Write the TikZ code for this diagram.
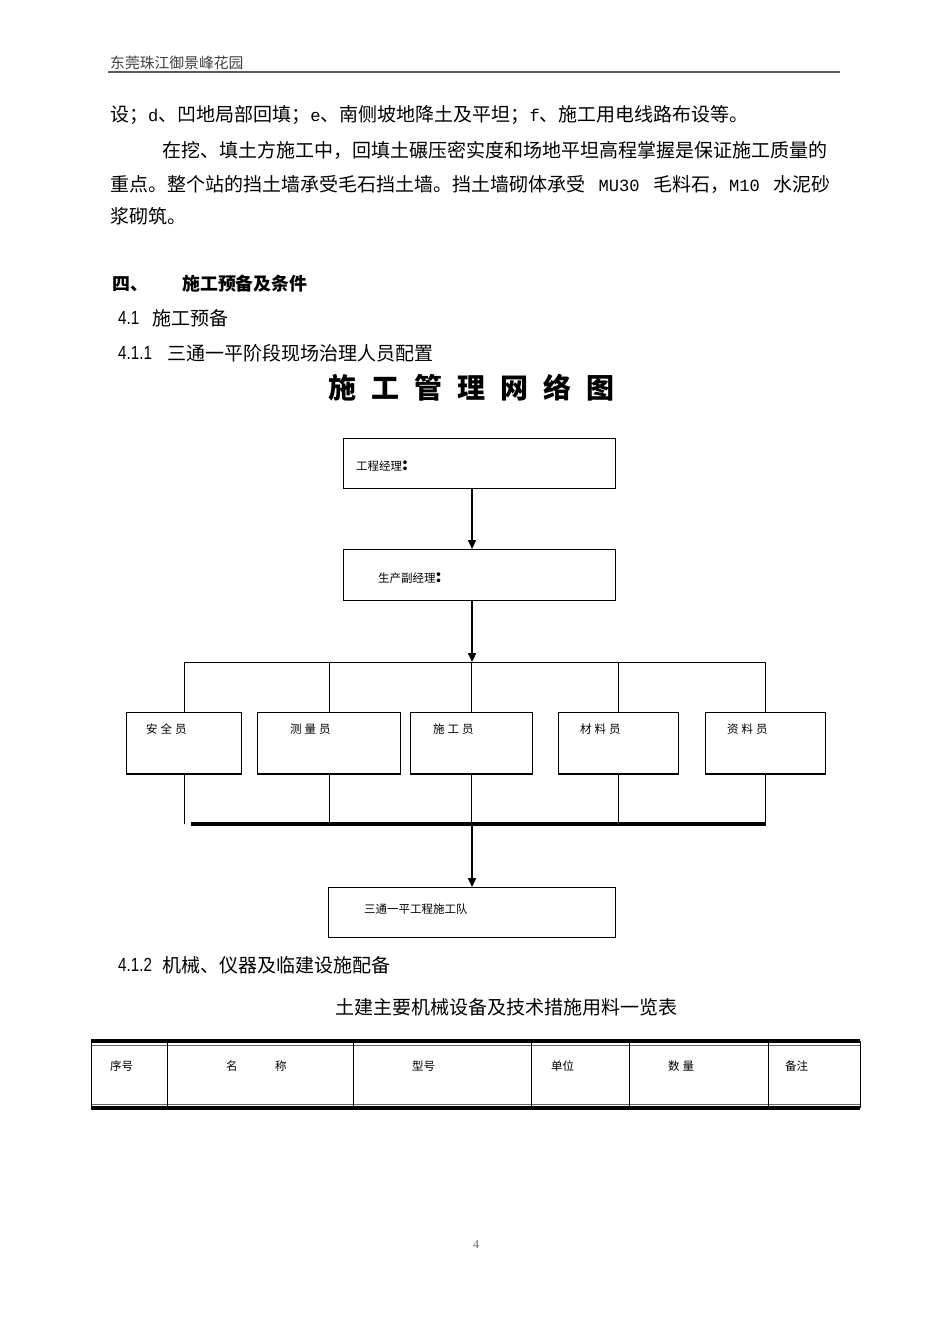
\documentclass[tikz,border=0pt]{standalone}
\usepackage{fontspec}
\setmainfont{Noto Sans CJK SC}
\newfontfamily\latmono[Scale=0.9]{Liberation Mono}
\newfontfamily\numfont[FakeStretch=0.8]{Liberation Sans}
\newfontfamily\pagefont{Liberation Serif}
\usetikzlibrary{arrows.meta}
\newcommand\stsp{\hspace{3pt}}
\newcommand\tisp{\hspace{15pt}}

\begin{document}
\begin{tikzpicture}[x=1pt,y=-1pt,
	every node/.style={inner sep=0pt},
	bodytext/.style={anchor=west,font=\fontsize{19}{22}\selectfont},
	numtext/.style={anchor=west,font=\numfont\fontsize{19}{22}\selectfont},
	mgrbox/.style={draw,line width=1.2pt,anchor=north west,minimum width=272pt,minimum height=50pt},
	staffbox/.style={draw,line width=1.2pt,anchor=north west,minimum height=61pt},
	boxlabel/.style={anchor=west,font=\fontsize{11.5}{13}\selectfont},
	mainarrow/.style={line width=2.2pt,-{Triangle[length=9pt,width=8pt]}},
	branch/.style={line width=1pt},
	heavybar/.style={line width=3.2pt}]
	\fill[white] (0,0) rectangle (950,1344);
	% header
	\node[anchor=west,font=\fontsize{14.8}{16}\selectfont,text=black!75] (header) at (110,63) {东莞珠江御景峰花园};
	\draw[line width=2pt,black!65] (108,72) -- (840,72);
	% body text
	\node[bodytext] (line1) at (110,115) {设；{\latmono d}、凹地局部回填；{\latmono e}、南侧坡地降土及平坦；{\latmono f}、施工用电线路布设等。};
	\node[bodytext] (line2) at (162,150) {在挖、填土方施工中，回填土碾压密实度和场地平坦高程掌握是保证施工质量的};
	\node[bodytext] (line3) at (110,184) {\makebox[720pt][s]{重点。整个站的挡土墙承受毛石挡土墙。挡土墙砌体承受 {\latmono MU30} 毛料石，{\latmono M10} 水泥砂}};
	\node[bodytext] (line4) at (110,216) {浆砌筑。};
	\node[bodytext,font=\fontsize{17.9}{20}\selectfont\bfseries] (sec4num) at (112,284) {四、};
	\node[bodytext,font=\fontsize{17.9}{20}\selectfont\bfseries] (sec4) at (182,284) {施工预备及条件};
	\node[numtext] (sec41num) at (118,318) {4.1};
	\node[bodytext] (sec41) at (152,318) {施工预备};
	\node[numtext] (sec411num) at (118,353) {4.1.1};
	\node[bodytext] (sec411) at (167,353) {三通一平阶段现场治理人员配置};
	\node[anchor=west,font=\fontsize{28}{30}\selectfont\bfseries] (title) at (328,388) {施\tisp 工\tisp 管\tisp 理\tisp 网\tisp 络\tisp 图};
	% chart
	\node[mgrbox] (pm) at (343,438) {};
	\node[mgrbox,minimum height=51pt] (dpm) at (343,549) {};
	\node[staffbox,minimum width=115pt] (anquan) at (126,712) {};
	\node[staffbox,minimum width=143pt] (celiang) at (257,712) {};
	\node[staffbox,minimum width=122pt] (shigong) at (410,712) {};
	\node[staffbox,minimum width=120pt] (cailiao) at (558,712) {};
	\node[staffbox,minimum width=120pt] (ziliao) at (705,712) {};
	\node[mgrbox,minimum width=287pt] (team) at (328,887) {};
	\node[boxlabel] (pmtext) at (356,466) {工程经理{\fontsize{17}{17}\selectfont\bfseries :}};
	\node[boxlabel] (dpmtext) at (378,578) {生产副经理{\fontsize{17}{17}\selectfont\bfseries :}};
	\node[boxlabel] (anquantext) at (146,729) {安\stsp 全\stsp 员};
	\node[boxlabel] (celiangtext) at (290,729) {测\stsp 量\stsp 员};
	\node[boxlabel] (shigongtext) at (433,729) {施\stsp 工\stsp 员};
	\node[boxlabel] (cailiaotext) at (580,729) {材\stsp 料\stsp 员};
	\node[boxlabel] (ziliaotext) at (727,729) {资\stsp 料\stsp 员};
	\node[boxlabel] (teamtext) at (364,909) {三通一平工程施工队};
	\foreach \s in {anquan,celiang,shigong,cailiao,ziliao}
		\draw[line width=2.4pt] (\s.south west) -- (\s.south east);
	\coordinate (spine) at (472,0);
	\coordinate (topbar) at (472,662);
	\coordinate (botbar) at (472,824);
	\draw[mainarrow] (pm.south -| spine) -- (dpm.north -| spine);
	\draw[mainarrow] (dpm.south -| spine) -- (topbar);
	\foreach \s in {anquan,celiang,shigong,cailiao,ziliao} {
		\draw[branch] (\s.north) -- (\s.north |- topbar);
		\draw[branch] (\s.south) -- (\s.south |- botbar);
	}
	\draw[branch] (anquan.north |- topbar) -- (ziliao.north |- topbar);
	\draw[heavybar] ([xshift=7pt]anquan.south |- botbar) -- (ziliao.south |- botbar);
	\draw[mainarrow] (botbar) -- (team.north -| spine);
	% table
	\node[numtext] (sec412num) at (118,965) {4.1.2};
	\node[bodytext] (sec412) at (162,965) {机械、仪器及临建设施配备};
	\node[bodytext] (caption) at (335,1007) {土建主要机械设备及技术措施用料一览表};
	\draw[line width=3.5pt] (91,1041) -- (860,1041);
	\draw[line width=1pt,black!60] (91,1045) -- (860,1045);
	\draw[line width=1pt,black!60] (91,1104) -- (860,1104);
	\draw[line width=3.5pt] (91,1108) -- (860,1108);
	\foreach \cx in {91,167,353,531,629,768,860}
		\draw[branch] (\cx,1041) -- (\cx,1108);
	\node[boxlabel] (hno) at (110,1066) {序号};
	\node[boxlabel] (hname1) at (226,1066) {名};
	\node[boxlabel] (hname2) at (275,1066) {称};
	\node[boxlabel] (htype) at (412,1066) {型号};
	\node[boxlabel] (hunit) at (551,1066) {单位};
	\node[boxlabel] (hqty) at (668,1066) {数\stsp 量};
	\node[boxlabel] (hnote) at (785,1066) {备注};
	\node[font=\pagefont\fontsize{12}{13}\selectfont,text=black!60] (pageno) at (476,1245) {4};
\end{tikzpicture}
\end{document}
